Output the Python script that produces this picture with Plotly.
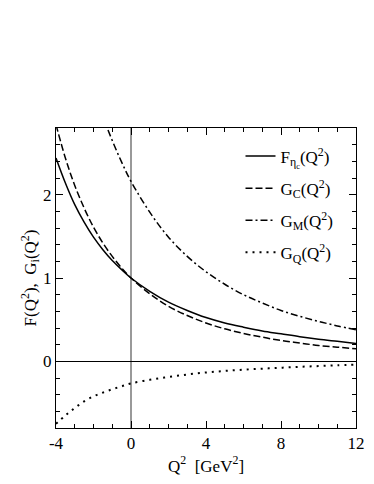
import plotly.graph_objects as go

# Q^2 grid in GeV^2
q2 = [-4, -3.5, -3, -2.5, -2, -1.5, -1, -0.5, 0, 1, 2, 3, 4, 5, 6, 7, 8, 9, 10, 11, 12]
f_etac = [2.44, 2.14, 1.88, 1.67, 1.49, 1.34, 1.21, 1.10, 1.0, 0.84, 0.71, 0.61,
          0.525, 0.46, 0.41, 0.365, 0.33, 0.295, 0.265, 0.24, 0.215]
g_c = [2.84, 2.44, 2.11, 1.84, 1.61, 1.42, 1.26, 1.12, 1.0, 0.81, 0.66, 0.55,
       0.46, 0.39, 0.335, 0.29, 0.25, 0.22, 0.19, 0.17, 0.15]
q2_m = [-2, -1.5, -1, -0.5, 0, 1, 2, 3, 4, 5, 6, 7, 8, 9, 10, 11, 12]
g_m = [3.29, 2.94, 2.65, 2.39, 2.16, 1.79, 1.49, 1.26, 1.075, 0.925, 0.80,
       0.70, 0.61, 0.54, 0.48, 0.425, 0.38]
g_q = [-0.75, -0.65, -0.56, -0.48, -0.42, -0.375, -0.335, -0.30, -0.265, -0.222,
       -0.187, -0.158, -0.134, -0.115, -0.10, -0.088, -0.077, -0.066, -0.057,
       -0.048, -0.04]

x_ticks = [-4, 0, 4, 8, 12]
x_ticktext = ["-4", "0", "4", "8", "12"]

font = "Liberation Serif"

fig = go.Figure()
fig.add_trace(go.Scatter(x=q2, y=f_etac, mode="lines", line_shape="spline",
                         name="F<sub>η<sub>c</sub></sub>(Q<sup>2</sup>)", legendgroup="f",
                         line=dict(color="black", width=1.5)))
fig.add_trace(go.Scatter(x=q2, y=g_c, mode="lines", line_shape="spline",
                         name="G<sub>C</sub>(Q<sup>2</sup>)", legendgroup="gc",
                         line=dict(color="black", width=1.5, dash="7px,3px")))
fig.add_trace(go.Scatter(x=q2_m, y=g_m, mode="lines", line_shape="spline",
                         name="G<sub>M</sub>(Q<sup>2</sup>)", legendgroup="gm",
                         line=dict(color="black", width=1.5, dash="7px,3px,2px,3px")))
fig.add_trace(go.Scatter(x=q2, y=g_q, mode="lines", line_shape="spline",
                         name="G<sub>Q</sub>(Q<sup>2</sup>)", legendgroup="gq",
                         line=dict(color="black", width=2, dash="2px,5px")))

axis_common = dict(
    showline=True, linecolor="black", linewidth=1, mirror="ticks",
    ticks="inside", ticklen=7, tickcolor="black", showgrid=False,
    tickfont=dict(family=font, size=17, color="black"),
)

fig.update_layout(
    width=374, height=484,
    margin=dict(l=56, r=18, t=128, b=56),
    paper_bgcolor="white", plot_bgcolor="white",
    font=dict(family=font, size=17, color="black"),
    showlegend=True,
    legend=dict(x=0.615, y=0.965, xanchor="left", yanchor="top",
                bgcolor="rgba(0,0,0,0)", font=dict(family=font, size=17),
                tracegroupgap=7),
    xaxis=dict(
        range=[-4, 12], tickvals=x_ticks, ticktext=x_ticktext,
        minor=dict(tickmode="linear", tick0=0, dtick=1, ticks="inside",
                   ticklen=4, tickcolor="black"),
        zeroline=True, zerolinecolor="#999999", zerolinewidth=1.5,
        automargin=False,
        title=dict(text="Q<sup>2</sup>\u00a0\u00a0[GeV<sup>2</sup>]", standoff=4,
                   font=dict(family=font, size=17)),
        **axis_common,
    ),
    yaxis=dict(
        range=[-0.8, 2.8], tickmode="linear", tick0=0, dtick=1,
        minor=dict(tickmode="linear", tick0=0, dtick=0.2, ticks="inside",
                   ticklen=4, tickcolor="black"),
        zeroline=True, zerolinecolor="black", zerolinewidth=1,
        automargin=True,
        title=dict(text="F(Q<sup>2</sup>),\u00a0\u00a0G<sub>i</sub>(Q<sup>2</sup>)",
                   standoff=2, font=dict(family=font, size=17)),
        **axis_common,
    ),
)

fig.write_html("out.html", config={"displayModeBar": False},
               post_script="document.body.style.margin='0';")
